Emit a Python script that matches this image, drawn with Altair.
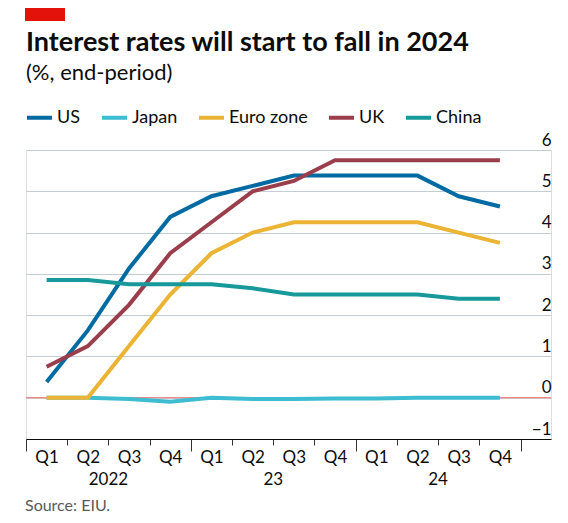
import altair as alt
import pandas as pd

# ---- data ----
quarter_labels = ["Q1", "Q2", "Q3", "Q4"]
year_labels = ["2022", "23", "24"]
year_tick_pos = [2, 6, 10]
series = ["US", "Japan", "Euro zone", "UK", "China"]
colors = ["#006BA2", "#3EBCD2", "#EBB434", "#9A3E4C", "#17989A"]
us = [0.38, 1.63, 3.13, 4.38, 4.88, 5.13, 5.38, 5.38, 5.38, 5.38, 4.88, 4.63]
japan = [0.0, 0.0, -0.03, -0.1, 0.0, -0.03, -0.03, -0.02, -0.02, 0.0, 0.0, 0.0]
euro = [0.0, 0.0, 1.25, 2.5, 3.5, 4.0, 4.25, 4.25, 4.25, 4.25, 4.0, 3.75]
uk = [0.75, 1.25, 2.25, 3.5, 4.25, 5.0, 5.25, 5.75, 5.75, 5.75, 5.75, 5.75]
china = [2.85, 2.85, 2.75, 2.75, 2.75, 2.65, 2.5, 2.5, 2.5, 2.5, 2.4, 2.4]
y_ticks = [-1, 0, 1, 2, 3, 4, 5, 6]
x_ticks = list(range(13))

values = {"US": us, "Japan": japan, "Euro zone": euro, "UK": uk, "China": china}
rows = []
for s in series:
    for i, v in enumerate(values[s]):
        rows.append({"series": s, "pos": i + 0.5, "value": v})
df = pd.DataFrame(rows)

W, H = 525, 289
XMAX = 12.74
step = W / XMAX
FONT = "Lato"
INK = "#0C0C0C"

xscale = alt.Scale(domain=[0, XMAX], nice=False, zero=False)
yscale = alt.Scale(domain=[-1, 6], nice=False, zero=False)

qexpr = "datum.value < 12 ? 'Q' + (datum.value % 4 + 1) : ''"

x_axis = alt.Axis(
    values=x_ticks,
    grid=False,
    domainColor=INK,
    domainWidth=1,
    tickColor="#333333",
    tickWidth=1,
    tickSize={"condition": {"test": "datum.value % 4 === 0", "value": 12}, "value": 6},
    labelPadding={"condition": {"test": "datum.value % 4 === 0", "value": -2}, "value": 4},
    labelExpr=qexpr,
    labelOffset=step / 2,
    labelAlign="center",
    labelFont=FONT,
    labelFontSize=17,
    labelColor=INK,
    labelOverlap=False,
    labelFlush=False,
    title=None,
)

y_axis = alt.Axis(
    orient="right",
    values=y_ticks,
    grid=True,
    gridColor={"condition": {"test": "datum.value === -1", "value": "rgba(0,0,0,0)"}, "value": "#C3CED4"},
    gridWidth=1,
    domain=False,
    ticks=False,
    labelAlign="right",
    labelBaseline="bottom",
    labelPadding=0,
    labelOffset=-1,
    labelFont=FONT,
    labelFontSize=17,
    labelColor=INK,
    title=None,
)

base = alt.Chart(df)

zero = alt.Chart(pd.DataFrame({"z": [0]})).mark_rule(color="#EE6B6B", strokeWidth=1).encode(
    y=alt.Y("z:Q", scale=yscale, axis=y_axis)
)

lines = base.mark_line(strokeWidth=4).encode(
    x=alt.X("pos:Q", scale=xscale, axis=x_axis),
    y=alt.Y("value:Q", scale=yscale, axis=y_axis),
    color=alt.Color(
        "series:N",
        scale=alt.Scale(domain=series, range=colors),
        sort=series,
        legend=alt.Legend(
            title=None,
            orient="none",
            legendX=-1,
            legendY=-47,
            direction="horizontal",
            symbolType="stroke",
            symbolStrokeWidth=4,
            symbolSize=625,
            labelFont=FONT,
            labelFontSize=18,
            labelColor=INK,
            labelOffset=3,
            columnPadding=13,
            padding=0,
        ),
    ),
    order=alt.Order("pos:Q"),
)

years = alt.Chart(pd.DataFrame({"pos": year_tick_pos, "label": year_labels})).mark_text(
    font=FONT, fontSize=17, color=INK, align="center", baseline="alphabetic"
).encode(
    x=alt.X("pos:Q", scale=xscale, axis=x_axis),
    y=alt.value(H + 46),
    text="label:N",
)

source = alt.Chart(pd.DataFrame({"t": ["Source: EIU."]})).mark_text(
    font=FONT, fontSize=16, color="#595959", align="left", baseline="alphabetic"
).encode(x=alt.value(-1), y=alt.value(H + 72), text="t:N")

redbar = alt.Chart(pd.DataFrame({"t": [1]})).mark_rect(color="#E3120B").encode(
    x=alt.value(-1), x2=alt.value(39), y=alt.value(-143), y2=alt.value(-129)
)

chart = alt.layer(zero, lines, years, source, redbar).properties(
    width=W,
    height=H,
    padding={"left": 18, "top": 142, "right": 8, "bottom": 76},
    autosize=alt.AutoSizeParams(type="none"),
    title=alt.TitleParams(
        text="Interest rates will start to fall in 2024",
        subtitle="(%, end-period)",
        anchor="start",
        frame="group",
        font=FONT,
        fontSize=27,
        fontWeight="bold",
        color=INK,
        subtitleFont=FONT,
        subtitleFontSize=22,
        subtitleColor=INK,
        subtitlePadding=6,
        offset=0,
        dy=78,
    ),
).configure_view(stroke=None).configure(background="white")

chart.save("out.html", embed_options={"renderer": "svg", "actions": False})
